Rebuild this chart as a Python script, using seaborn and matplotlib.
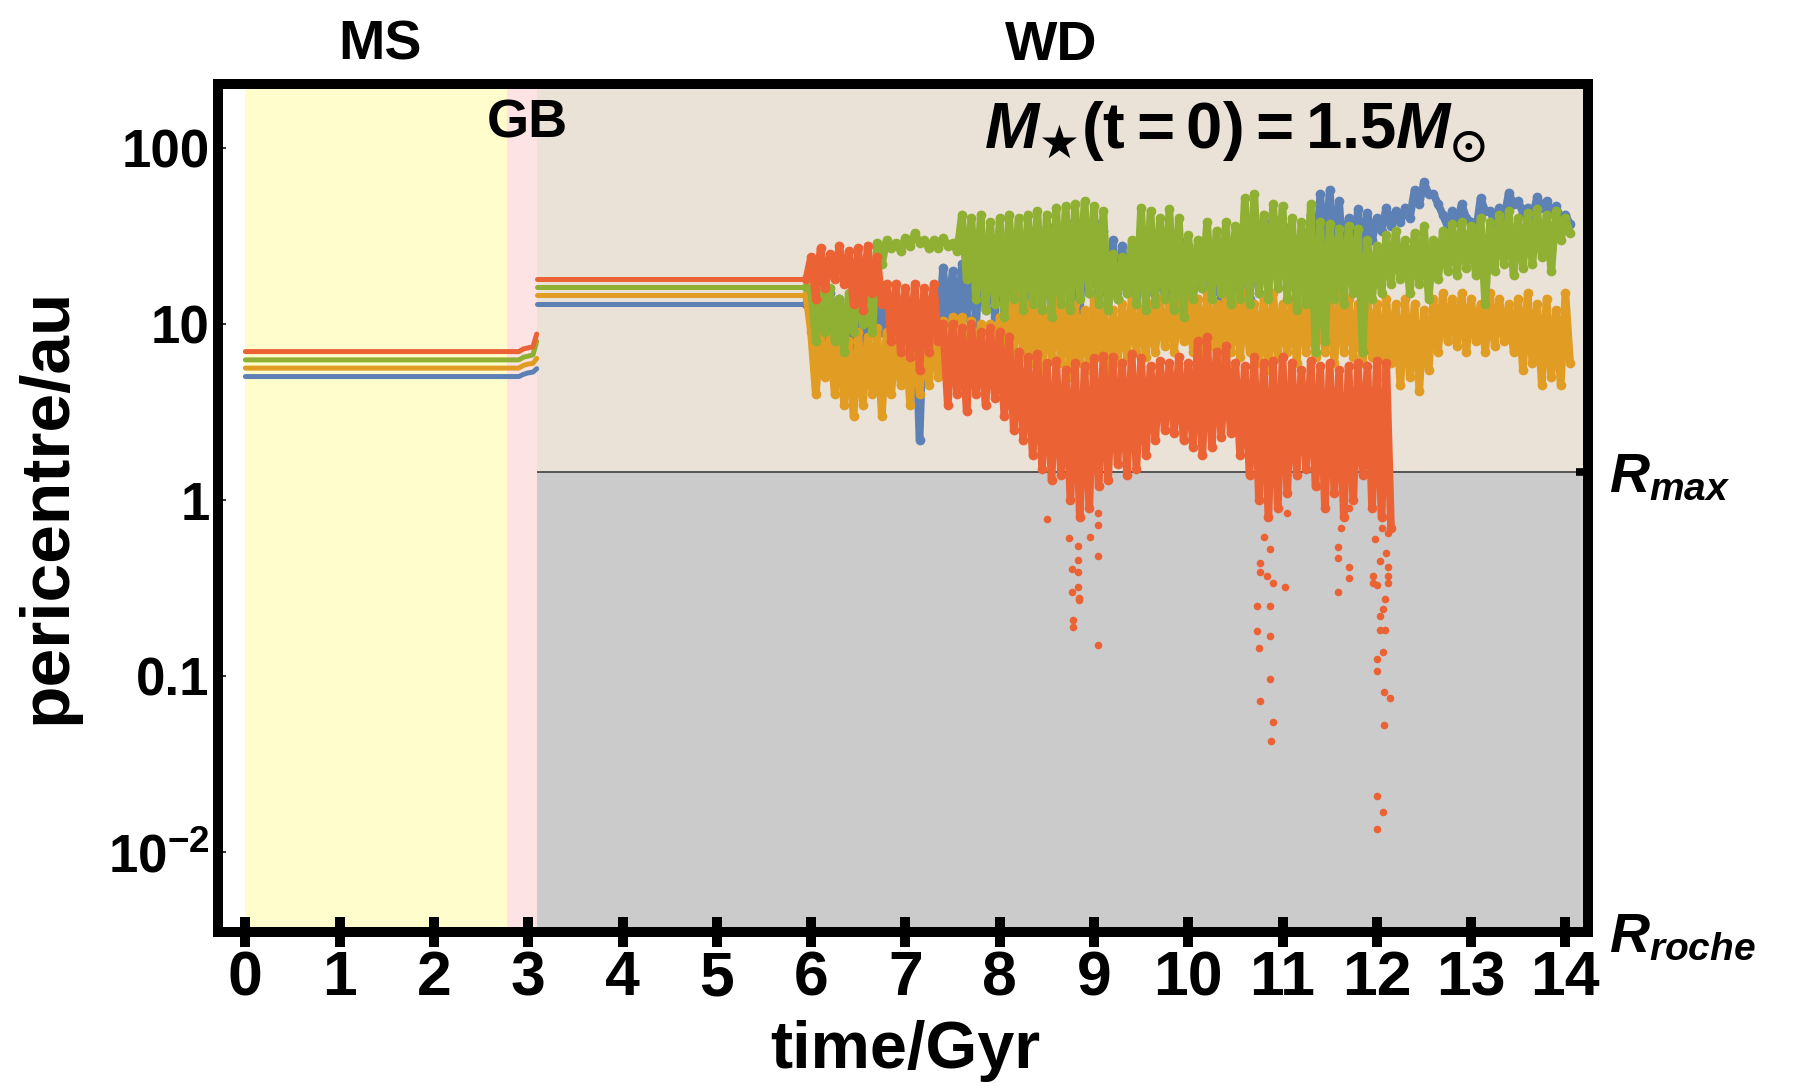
import numpy as np
import pandas as pd
import matplotlib
matplotlib.use("Agg")
import matplotlib.pyplot as plt
import seaborn as sns
from matplotlib.ticker import FixedLocator, FixedFormatter, LogLocator, NullFormatter, NullLocator

# ---------------------------------------------------------------- data
BODIES = ["P1", "P2", "P3", "P4"]
COLORS = {"P1": "#5E81B5", "P2": "#E19C24", "P3": "#8FB032", "P4": "#EB6235"}

# stellar phases (Gyr) and the two critical distances (au)
MS_END = 2.77
GB_END = 3.09
CHAOS_START = 5.95
R_MAX = 1.45
R_ROCHE = 0.00353

X_TICKS = list(range(0, 15))
Y_TICKS = [100, 10, 1, 0.1, 0.01]
Y_TICK_LABELS = ["100", "10", "1", "0.1", r"$\mathbf{10^{-2}}$"]

# main sequence + giant branch: pericentres before mass loss
ms_t = [0.0, 2.90, 2.95, 3.00, 3.05, 3.09]
ms_p = {
    "P1": [5.05, 5.05, 5.20, 5.30, 5.35, 5.60],
    "P2": [5.64, 5.64, 5.85, 5.95, 6.00, 6.40],
    "P3": [6.28, 6.28, 6.50, 6.60, 6.70, 8.00],
    "P4": [7.00, 7.00, 7.25, 7.35, 7.45, 8.80],
}

# white dwarf phase, expanded orbits before instability sets in
wd_flat = {"P1": 13.1, "P2": 14.7, "P3": 16.3, "P4": 18.0}

# unstable phase: upper / lower pericentre excursions every 0.1 Gyr from 6.0 Gyr
hi = {
    "P1": [14, 13, 15, 14, 12, 14, 13, 15, 14, 13,
           14, 13, 14, 16, 21, 20, 22, 24, 28, 26,
           30, 32, 28, 35, 32, 36, 34, 38, 35, 33,
           38, 34, 30, 28, 26, 27, 30, 28, 32, 30,
           28, 26, 29, 24, 27, 28, 30, 34, 38, 40,
           36, 30, 32, 42, 55, 58, 50, 40, 45, 43,
           40, 46, 44, 46, 58, 64, 55, 42, 44, 48,
           38, 52, 44, 46, 56, 50, 46, 53, 50, 47,
           42],
    "P2": [9, 9, 8.5, 9, 8, 9, 8.5, 9.5, 9, 9.5,
           9, 10, 9.5, 10, 10.5, 11, 11, 10.5, 10, 10,
           11, 14, 16, 13, 15, 12, 14, 15, 13, 12,
           14, 13, 12, 13, 14, 12, 13, 14, 13, 14,
           15, 14, 15, 13, 16, 14, 15, 13, 14, 15,
           13, 14, 15, 13, 16, 14, 15, 14, 13, 14,
           13, 14, 13, 14, 13, 12, 14, 15, 14, 15,
           14, 13, 15, 14, 13, 14, 15, 13, 14, 12,
           15],
    "P3": [16, 15, 16, 14, 15, 17, 16, 29, 30, 29,
           31, 33, 30, 30, 31, 29, 42, 40, 42, 38,
           40, 42, 40, 42, 44, 42, 46, 47, 48, 50,
           47, 44, 25, 24, 30, 46, 44, 40, 45, 40,
           32, 30, 38, 34, 38, 36, 52, 55, 42, 48,
           47, 40, 38, 48, 38, 37, 35, 36, 35, 30,
           28, 32, 34, 30, 33, 36, 30, 34, 37, 38,
           36, 40, 38, 42, 44, 40, 43, 45, 42, 44,
           40],
    "P4": [24, 27, 25, 28, 26, 27, 28, 24, 17, 17,
           16, 17, 16, 17, 10, 10, 9.5, 10, 9, 9.5,
           9, 8.5, 7, 6.5, 6.8, 6, 6.2, 5.5, 6, 5.8,
           6.4, 6.6, 6.5, 6, 6.8, 6.4, 5.8, 6.2, 6, 6.5,
           6, 8, 8.5, 7, 7.5, 6, 5.8, 6.5, 6, 6.2,
           6.5, 6, 5.5, 6.2, 5.8, 6, 5.5, 5.8, 6, 5.8,
           6.2, 6],
}
lo = {
    "P1": [5.2, 8, 8, 9, 7.5, 8, 9, 9, 8.5, 8,
           7, 2.2, 6, 9, 10, 9.5, 11, 10, 12, 11,
           12, 11, 10, 14, 12, 13, 12, 14, 12, 15,
           13, 12, 14, 15, 13, 15, 16, 14, 12, 12,
           14, 16, 15, 14, 13, 15, 14, 15, 18, 19,
           17, 16, 18, 20, 22, 24, 20, 22, 25, 30,
           34, 36, 38, 40, 48, 55, 48, 36, 38, 40,
           33, 44, 38, 40, 48, 43, 40, 46, 43, 40,
           37],
    "P2": [4, 5, 4, 3.5, 3, 3.5, 4, 3, 4, 4.5,
           3.5, 4, 4.5, 5, 6, 6, 6, 6, 6, 6,
           6, 7, 6.5, 6, 5.5, 6.5, 6, 5, 6, 5.5,
           6.5, 5, 6, 6.5, 7, 6.5, 7, 7.5, 7, 8,
           7, 6, 7.5, 6, 7, 6.5, 7, 6, 5.5, 6.5,
           7, 6, 7, 6.5, 7, 6, 7, 6.5, 6, 6.5,
           5, 6, 4.5, 5, 4.2, 5.5, 7, 8, 7.5, 7,
           8, 7, 7.5, 8, 7, 5.5, 6, 4.5, 5, 4.5,
           6],
    "P3": [8, 9, 8, 7, 9, 10, 9, 22, 27, 26,
           28, 29, 27, 27, 28, 26, 18, 14, 12, 13,
           11, 14, 12, 13, 12, 11, 13, 12, 14, 15,
           13, 12, 14, 15, 13, 12, 13, 14, 12, 11,
           14, 16, 14, 15, 13, 14, 13, 15, 14, 16,
           14, 12, 13, 7, 8, 14, 13, 15, 7, 14,
           15, 17, 18, 15, 17, 14, 18, 20, 19, 21,
           19, 13, 20, 22, 19, 21, 22, 24, 20, 30,
           33],
    "P4": [14, 16, 18, 17, 13, 12, 15, 13, 8, 7,
           6.5, 5.5, 7, 8, 3.5, 4, 3.2, 4, 3.5, 3.8,
           3, 2.5, 2.2, 1.8, 1.5, 1.3, 1.4, 1.0, 0.8, 0.9,
           1.2, 1.3, 1.6, 1.4, 1.5, 1.8, 2.2, 2.5, 2.4, 2.2,
           2, 1.8, 2, 2.3, 2.4, 1.8, 1.4, 1.0, 0.8, 0.9,
           1.1, 1.4, 1.5, 1.2, 0.9, 1.1, 0.8, 1.0, 1.4, 0.9,
           0.8, 0.7],
}

# isolated close approaches of the innermost body inside R_max
dip_t = [8.50, 8.73, 8.83, 8.83, 8.77, 8.83, 8.83, 8.77, 8.84, 8.84,
         8.78, 8.78, 9.04, 9.04, 8.96, 9.04, 9.04,
         10.73, 10.87, 10.73, 10.87, 10.75, 10.87, 10.76, 10.90, 10.88,
         11.03, 10.76, 10.76, 10.83, 10.90, 10.87, 10.80, 11.05,
         11.59, 11.59, 11.59, 11.71, 11.71, 11.62, 11.70,
         12.00, 12.07, 12.00, 12.08, 12.14, 12.08, 12.00, 12.00, 12.07,
         12.03, 12.09, 12.07, 12.03, 12.09, 12.12, 12.12, 11.96, 11.96,
         12.00, 12.03, 12.12, 12.10, 11.98, 12.05, 12.12]
dip_p = [0.78, 0.61, 0.55, 0.46, 0.41, 0.39, 0.32, 0.30, 0.28, 0.27,
         0.21, 0.19, 0.15, 0.48, 0.62, 0.85, 0.72,
         0.25, 0.25, 0.18, 0.17, 0.145, 0.097, 0.072, 0.055, 0.043,
         0.32, 0.44, 0.39, 0.37, 0.34, 0.53, 0.62, 0.85,
         0.30, 0.54, 0.47, 0.42, 0.36, 0.70, 0.90,
         0.021, 0.017, 0.0135, 0.082, 0.075, 0.053, 0.126, 0.107, 0.138,
         0.184, 0.184, 0.24, 0.22, 0.276, 0.37, 0.34, 0.37, 0.34,
         0.33, 0.45, 0.42, 0.50, 0.60, 0.70, 0.65]

# ---------------------------------------------------------------- long-form table
rows = []
for b in BODIES:
    for t, p in zip(ms_t, ms_p[b]):
        rows.append((b, 0, t, p))
    rows.append((b, 1, GB_END, wd_flat[b]))
    rows.append((b, 1, CHAOS_START, wd_flat[b]))
    rows.append((b, 2, CHAOS_START, wd_flat[b]))
    for k, (h, l) in enumerate(zip(hi[b], lo[b])):
        tk = 6.0 + 0.1 * k
        rows.append((b, 2, tk, h))
        rows.append((b, 2, tk + 0.05, l))
df = pd.DataFrame(rows, columns=["body", "seg", "t", "p"])
quiet = df[df["seg"] < 2]
unstable = df[df["seg"] == 2]

# ---------------------------------------------------------------- style
sns.set_style("white")
plt.rcParams["font.family"] = ["Liberation Sans", "DejaVu Sans"]
plt.rcParams["font.weight"] = "bold"
plt.rcParams["text.color"] = "black"
plt.rcParams["axes.labelcolor"] = "black"
plt.rcParams["xtick.color"] = "black"
plt.rcParams["ytick.color"] = "black"
plt.rcParams["mathtext.fontset"] = "custom"
plt.rcParams["mathtext.rm"] = "Liberation Sans:bold"
plt.rcParams["mathtext.bf"] = "Liberation Sans:bold"
plt.rcParams["mathtext.sf"] = "DejaVu Sans:bold"
plt.rcParams["mathtext.it"] = "Liberation Sans:italic:bold"
plt.rcParams["mathtext.fallback"] = "stixsans"

X_MIN, X_MAX = -0.29, 14.24
Y_MIN, Y_MAX = R_ROCHE, 232

fig = plt.figure(figsize=(17.96, 10.86), dpi=100)
ax = fig.add_axes([0.1214, 0.1418, 0.7628, 0.7809])
ax.set_yscale("log")
ax.set_xlim(X_MIN, X_MAX)
ax.set_ylim(Y_MIN, Y_MAX)

# phase backgrounds
ax.axvspan(0, MS_END, color="#FFFDCB", lw=0, zorder=0)
ax.axvspan(MS_END, GB_END, color="#FDE3E3", lw=0, zorder=0)
ax.axvspan(GB_END, X_MAX, color="#EAE1D7", lw=0, zorder=0)
ax.fill_between([GB_END, X_MAX], Y_MIN, R_MAX, color="#CBCBCB", lw=0, zorder=0.5)
ax.hlines(R_MAX, GB_END, X_MAX, color="#4a4a4a", lw=1.3, zorder=0.6)

sns.lineplot(data=quiet, x="t", y="p", hue="body", hue_order=BODIES, units="seg",
             estimator=None, sort=False, palette=COLORS, linewidth=3.6,
             legend=False, solid_capstyle="round", ax=ax, zorder=2)
sns.lineplot(data=unstable, x="t", y="p", hue="body", hue_order=BODIES, units="seg",
             estimator=None, sort=False, palette=COLORS, linewidth=5.6,
             marker="o", markersize=7, markeredgewidth=0, legend=False,
             solid_capstyle="round", solid_joinstyle="round", ax=ax, zorder=2)
sns.scatterplot(x=dip_t, y=dip_p, color=COLORS["P4"], s=30, linewidth=0,
                legend=False, ax=ax, zorder=3)

# ---------------------------------------------------------------- axes
for s in ax.spines.values():
    s.set_linewidth(7.2)
    s.set_color("black")
    s.set_zorder(5)

ax.xaxis.set_major_locator(FixedLocator(X_TICKS))
ax.set_xticklabels([str(v) for v in X_TICKS])
ax.tick_params(axis="x", which="major", direction="inout", length=21, width=7.2,
               color="black", labelsize=45, pad=2, top=False, bottom=True)

ax.yaxis.set_major_locator(FixedLocator(Y_TICKS))
ax.yaxis.set_major_formatter(FixedFormatter(Y_TICK_LABELS))
ax.yaxis.set_minor_locator(LogLocator(base=10, subs=np.arange(2, 10)))
ax.yaxis.set_minor_formatter(NullFormatter())
ax.tick_params(axis="y", which="major", direction="in", length=6, width=1.1,
               labelsize=38, pad=6, right=False, left=True)
ax.tick_params(axis="y", which="minor", direction="in", length=3, width=0.9,
               right=False, left=True)
for lab in ax.get_xticklabels() + ax.get_yticklabels():
    lab.set_fontweight("bold")
ax.set_xlabel("")
ax.set_ylabel("")

# right-hand markers for the critical distances
ax2 = ax.twinx()
ax2.set_yscale("log")
ax2.set_ylim(Y_MIN, Y_MAX)
ax2.yaxis.set_major_locator(FixedLocator([R_MAX, R_ROCHE]))
ax2.yaxis.set_major_formatter(FixedFormatter([r"$R_{max}$", r"$R_{roche}$"]))
ax2.yaxis.set_minor_locator(NullLocator())
ax2.tick_params(axis="y", direction="in", length=9, width=5.5, labelsize=40, pad=15)
for s in ax2.spines.values():
    s.set_visible(False)

# ---------------------------------------------------------------- labels
fig.text(0.0262, 0.534, "pericentre/au", rotation=90, fontsize=50,
         weight="bold", ha="center", va="center")
fig.text(0.5039, 0.0322, "time/Gyr", fontsize=48, weight="bold",
         ha="center", va="center")
fig.text(0.2116, 0.9451, "MS", fontsize=40, weight="bold", ha="center", va="baseline")
fig.text(0.5852, 0.9451, "WD", fontsize=40, weight="bold", ha="center", va="baseline")
fig.text(0.2934, 0.8735, "GB", fontsize=39, weight="bold", ha="center", va="baseline")
fig.text(0.6877, 0.8628, "$M_{\\mathsf{\u2605}}\\mathbf{(t=0)=1.5}M_{\\odot}$",
         fontsize=47, ha="center", va="baseline")

fig.savefig("out.png", dpi=100)
